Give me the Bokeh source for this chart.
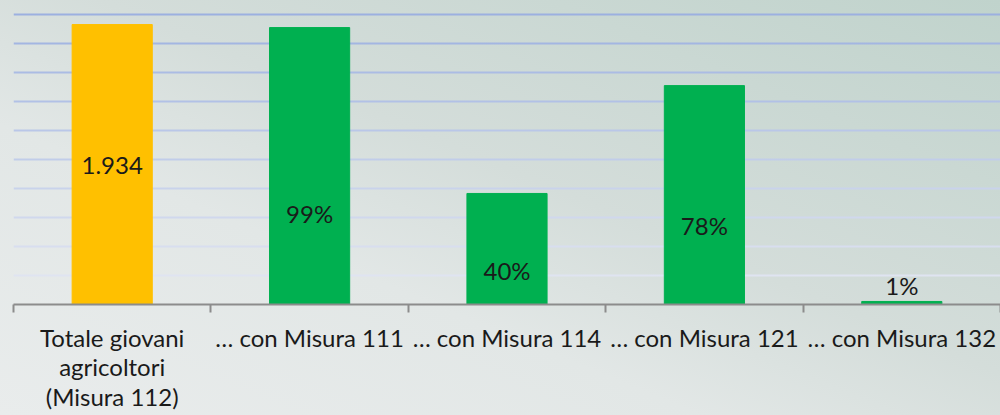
from bokeh.plotting import figure
from bokeh.models import ColumnDataSource, FixedTicker, Range1d, Grid
from bokeh.core.properties import value
from bokeh.embed import file_html
from bokeh.resources import INLINE

# ---- data ----
categories = [
    "Totale giovani\nagricoltori\n(Misura 112)",
    "… con Misura 111",
    "… con Misura 114",
    "… con Misura 121",
    "… con Misura 132",
]
counts = [1934, 1913, 767, 1512, 21]
labels = ["1.934", "99%", "40%", "78%", "1%"]
label_y = [960, 628, 235, 546, 128]
bar_colors = ["#FFC000", "#00B050", "#00B050", "#00B050", "#00B050"]
y_ticks = [200, 400, 600, 800, 1000, 1200, 1400, 1600, 1800, 2000]

n = len(categories)
centers = [i + 0.5 for i in range(n)]
bounds = [float(i) for i in range(n + 1)]

src = ColumnDataSource(dict(x=centers, top=counts, color=bar_colors,
                            label=labels, ly=label_y))

p = figure(width=1000, height=415, x_range=Range1d(0, n), y_range=Range1d(0, 2100),
           output_backend="svg", toolbar_location=None, y_axis_location=None,
           min_border_left=13, min_border_right=0, min_border_top=0, min_border_bottom=111)

p.background_fill_color = None
p.border_fill_color = None
p.outline_line_color = None
p.styles = {"background": "linear-gradient(to top right, #e9ecec 0%, #e2e7e6 35%, #d4ddda 55%, #c0d3cc 100%)"}

p.xgrid.visible = False
p.ygrid.visible = False

def hex_to_rgb(h):
    h = h.lstrip("#")
    return tuple(int(h[i:i + 2], 16) for i in (0, 2, 4))

top_c = hex_to_rgb("#9cb0e0")
bot_c = hex_to_rgb("#dfe4f1")
for i, t in enumerate(y_ticks):
    f = i / (len(y_ticks) - 1)
    c = tuple(int(round(bot_c[k] + (top_c[k] - bot_c[k]) * f)) for k in range(3))
    g = Grid(dimension=1, ticker=FixedTicker(ticks=[t]),
             grid_line_color="#%02x%02x%02x" % c, grid_line_width=2)
    p.add_layout(g)

p.vbar(x="x", top="top", width=0.406, color="color", source=src)

p.text(x="x", y="ly", text="label", source=src, text_align="center",
       text_baseline="middle", text_font=value("Lato"), text_font_size="24px",
       text_color="#1a1a1a")

ax = p.xaxis[0]
ax.ticker = FixedTicker(ticks=centers, minor_ticks=bounds)
ax.major_label_overrides = {c: lab for c, lab in zip(centers, categories)}
ax.major_label_text_font = "Lato"
ax.major_label_text_font_size = "24px"
ax.major_label_text_line_height = 1.03
ax.major_label_text_color = "#1a1a1a"
ax.major_tick_line_color = None
ax.major_tick_out = 8
ax.major_tick_in = 0
ax.major_label_standoff = 10
ax.minor_tick_line_color = "#8c8c8c"
ax.minor_tick_line_width = 2
ax.minor_tick_out = 8
ax.minor_tick_in = 0
ax.axis_line_color = "#8c8c8c"
ax.axis_line_width = 2

open("out.html", "w").write(file_html(p, INLINE))
